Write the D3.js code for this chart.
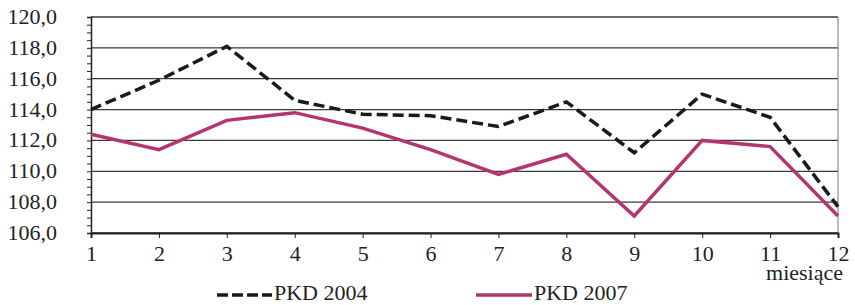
<!DOCTYPE html>
<html>
<head>
<meta charset="utf-8">
<script src="https://cdn.jsdelivr.net/npm/d3@7"></script>
<style>
  body { margin: 0; background: #fff; }
  svg text { font-family: "Liberation Serif", "DejaVu Serif", serif; fill: #222; }
</style>
</head>
<body>
<div id="chart"></div>
<script>
var months = [1, 2, 3, 4, 5, 6, 7, 8, 9, 10, 11, 12];
var pkd2004 = [114.0, 115.9, 118.1, 114.6, 113.7, 113.6, 112.9, 114.5, 111.2, 115.0, 113.5, 107.7];
var pkd2007 = [112.4, 111.4, 113.3, 113.8, 112.8, 111.4, 109.8, 111.1, 107.1, 112.0, 111.6, 107.1];
var yTicks = [106, 108, 110, 112, 114, 116, 118, 120];
var seriesNames = ['PKD 2004', 'PKD 2007'];

var width = 855, height = 305;
var plotLeft = 91, plotRight = 838, plotTop = 17, plotBottom = 233;

var svg = d3.select('#chart').append('svg')
  .attr('width', width).attr('height', height);

var x = d3.scaleLinear().domain([1, 12]).range([plotLeft, plotRight]);
var y = d3.scaleLinear().domain([106, 120]).range([plotBottom, plotTop]);

// gridlines
svg.append('g').selectAll('line.grid')
  .data(yTicks)
  .enter().append('line')
  .attr('x1', plotLeft).attr('x2', plotRight)
  .attr('y1', function(d) { return y(d); })
  .attr('y2', function(d) { return y(d); })
  .attr('stroke', '#3a3a3a').attr('stroke-width', 1.3);

// right border
svg.append('line')
  .attr('x1', plotRight).attr('x2', plotRight)
  .attr('y1', plotTop).attr('y2', plotBottom)
  .attr('stroke', '#777').attr('stroke-width', 1);

// y axis with minor ticks (every 0.5)
var yAxis = d3.axisLeft(y)
  .ticks(28)
  .tickSize(4)
  .tickFormat('');
var gy = svg.append('g').attr('transform', 'translate(' + plotLeft + ',0)').call(yAxis);
gy.select('.domain').attr('stroke', '#222').attr('stroke-width', 1.5);
gy.selectAll('.tick line').attr('stroke', '#222');

svg.append('g').selectAll('text.ylab')
  .data(yTicks)
  .enter().append('text')
  .attr('x', 57)
  .attr('y', function(d) { return y(d) + 7; })
  .attr('text-anchor', 'end')
  .style('font-size', '22px')
  .text(function(d) { return d3.format('.1f')(d).replace('.', ','); });

// x axis
var xAxis = d3.axisBottom(x)
  .tickValues(months)
  .tickSize(5)
  .tickPadding(7)
  .tickFormat(d3.format('d'));
var gx = svg.append('g').attr('transform', 'translate(0,' + plotBottom + ')').call(xAxis);
gx.select('.domain').attr('stroke', '#222').attr('stroke-width', 2);
gx.selectAll('.tick line').attr('stroke', '#222');
gx.selectAll('.tick text')
  .style('font-size', '22px')
  .style('font-family', '"Liberation Serif", serif')
  .attr('fill', '#222');

svg.append('text')
  .attr('x', 843).attr('y', 280)
  .attr('text-anchor', 'end')
  .style('font-size', '22px')
  .text('miesiące');

// series
var line = d3.line()
  .x(function(d, i) { return x(months[i]); })
  .y(function(d) { return y(d); });

svg.append('path').datum(pkd2007)
  .attr('d', line)
  .attr('fill', 'none')
  .attr('stroke', '#b5356e')
  .attr('stroke-width', 3.5);

svg.append('path').datum(pkd2004)
  .attr('d', line)
  .attr('fill', 'none')
  .attr('stroke', '#1a1a1a')
  .attr('stroke-width', 3.5)
  .attr('stroke-dasharray', '11,5');

// legend
var legend = [
  { name: seriesNames[0], x1: 217, x2: 272, color: '#1a1a1a', dash: '11,4' },
  { name: seriesNames[1], x1: 476, x2: 532, color: '#b5356e', dash: null }
];
var lg = svg.append('g').selectAll('g').data(legend).enter().append('g');
lg.append('line')
  .attr('x1', function(d) { return d.x1; })
  .attr('x2', function(d) { return d.x2; })
  .attr('y1', 295).attr('y2', 295)
  .attr('stroke', function(d) { return d.color; })
  .attr('stroke-width', 3.5)
  .attr('stroke-dasharray', function(d) { return d.dash; });
lg.append('text')
  .attr('x', function(d) { return d.x2 + 2; })
  .attr('y', 300)
  .style('font-size', '22px')
  .text(function(d) { return d.name; });
</script>
</body>
</html>
